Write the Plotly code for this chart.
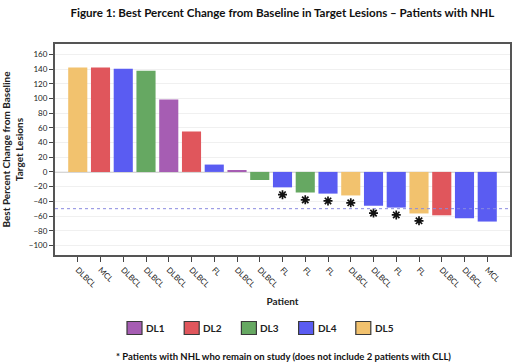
import plotly.graph_objects as go

patients = ["DLBCL", "MCL", "DLBCL", "DLBCL", "DLBCL", "DLBCL", "FL", "DLBCL", "DLBCL",
            "FL", "FL", "FL", "DLBCL", "DLBCL", "FL", "FL", "DLBCL", "DLBCL", "MCL"]
best_change = [142, 142, 140.5, 137.5, 98.5, 55, 10, 2.5, -11,
               -21, -28, -29.5, -32, -46, -48.5, -56.5, -59, -63, -67.5]
dose_level = ["DL5", "DL2", "DL4", "DL3", "DL1", "DL2", "DL4", "DL1", "DL3",
              "DL4", "DL3", "DL4", "DL5", "DL4", "DL4", "DL5", "DL2", "DL4", "DL4"]
on_study = [False, False, False, False, False, False, False, False, False,
            True, True, True, True, True, True, True, False, False, False]
levels = ["DL1", "DL2", "DL3", "DL4", "DL5"]
colors = {"DL1": "#A65DB3", "DL2": "#E0565C", "DL3": "#66A862",
          "DL4": "#5A5CF2", "DL5": "#F2C26E"}
threshold = -50

W, H = 520, 363
ML, MR, MT, MB = 55, 10, 44, 108
PW, PH = W - ML - MR, H - MT - MB


def px_x(px):
    return (px - ML) / PW


def px_y(py):
    return (H - MB - py) / PH


FONT = "Lato, 'Open Sans', sans-serif"
fig = go.Figure()
idx = list(range(len(patients)))

for lv in levels:
    xs = [i for i in idx if dose_level[i] == lv]
    ys = [best_change[i] for i in xs]
    fig.add_trace(go.Bar(x=xs, y=ys, name=lv, marker=dict(color=colors[lv], line=dict(width=0)),
                         width=0.84, showlegend=False, hoverinfo="y"))

ax = [i for i in idx if on_study[i]]
ay = [best_change[i] - 10 for i in ax]
fig.add_trace(go.Scatter(x=ax, y=ay, mode="markers", showlegend=False,
                         marker=dict(symbol="asterisk-open", size=7.5, color="#111111",
                                     line=dict(color="#111111", width=1.7))))

shapes = [
    dict(type="line", xref="paper", x0=0, x1=1, yref="y", y0=0, y1=0,
         line=dict(color="#9a9a9a", width=1), layer="below"),
    dict(type="line", xref="paper", x0=0, x1=1, yref="y", y0=threshold, y1=threshold,
         line=dict(color="#8a8ae0", width=1, dash="dot"), layer="above"),
]
annotations = []

# manual legend (swatch + bold label)
leg_x0, leg_step, leg_cy = 127, 57.2, 328
for k, lv in enumerate(levels):
    sx = leg_x0 + k * leg_step
    shapes.append(dict(type="rect", xref="paper", yref="paper",
                       x0=px_x(sx), x1=px_x(sx + 15), y0=px_y(leg_cy + 6.5), y1=px_y(leg_cy - 6.5),
                       fillcolor=colors[lv], line=dict(color="#3a3a3a", width=1.2), layer="above"))
    annotations.append(dict(text="<b>" + lv + "</b>", xref="paper", yref="paper",
                            x=px_x(sx + 17), y=px_y(leg_cy), xanchor="left", yanchor="middle",
                            showarrow=False, font=dict(size=10, family=FONT, color="#222222")))

annotations.append(dict(text="<b>* Patients with NHL who remain on study (does not include 2 patients with CLL)</b>",
                        xref="paper", yref="paper", x=px_x(283), y=px_y(356), xanchor="center",
                        yanchor="middle", showarrow=False,
                        font=dict(size=9.5, family=FONT, color="#111111")))

fig.update_layout(
    width=W, height=H,
    margin=dict(l=ML, r=MR, t=MT, b=MB, autoexpand=False),
    paper_bgcolor="white", plot_bgcolor="white",
    font=dict(family=FONT, color="#222222"),
    barmode="overlay", showlegend=False,
    title=dict(text="<b>Figure 1: Best Percent Change from Baseline in Target Lesions – Patients with NHL</b>",
               x=0.543, xanchor="center", y=0.965, yanchor="middle",
               font=dict(size=11.6, family=FONT, color="#111111")),
    xaxis=dict(range=[-1, 19], tickvals=idx, ticktext=patients, tickangle=45,
               ticks="outside", ticklen=5, tickcolor="#444444", tickfont=dict(size=8, color="#222222"),
               showgrid=False, zeroline=False, showline=True, linecolor="#555555", linewidth=2,
               mirror=True, automargin=False,
               title=dict(text="<b>Patient</b>", font=dict(size=10, color="#222222"), standoff=10)),
    yaxis=dict(range=[-113, 174], tickvals=list(range(-100, 161, 20)),
               ticks="outside", ticklen=4, tickcolor="#444444", tickfont=dict(size=8, color="#222222"),
               showgrid=True, gridcolor="#f0f0f0", gridwidth=1, zeroline=False,
               showline=True, linecolor="#555555", linewidth=2, mirror=True, automargin=False,
               title=dict(text="<b>Best Percent Change from Baseline<br>Target Lesions</b>",
                          font=dict(size=10, color="#222222"), standoff=3)),
    shapes=shapes,
    annotations=annotations,
)

fig.write_html("out.html", config={"displayModeBar": False},
               post_script="document.body.style.margin='0';document.body.style.overflow='hidden';")
